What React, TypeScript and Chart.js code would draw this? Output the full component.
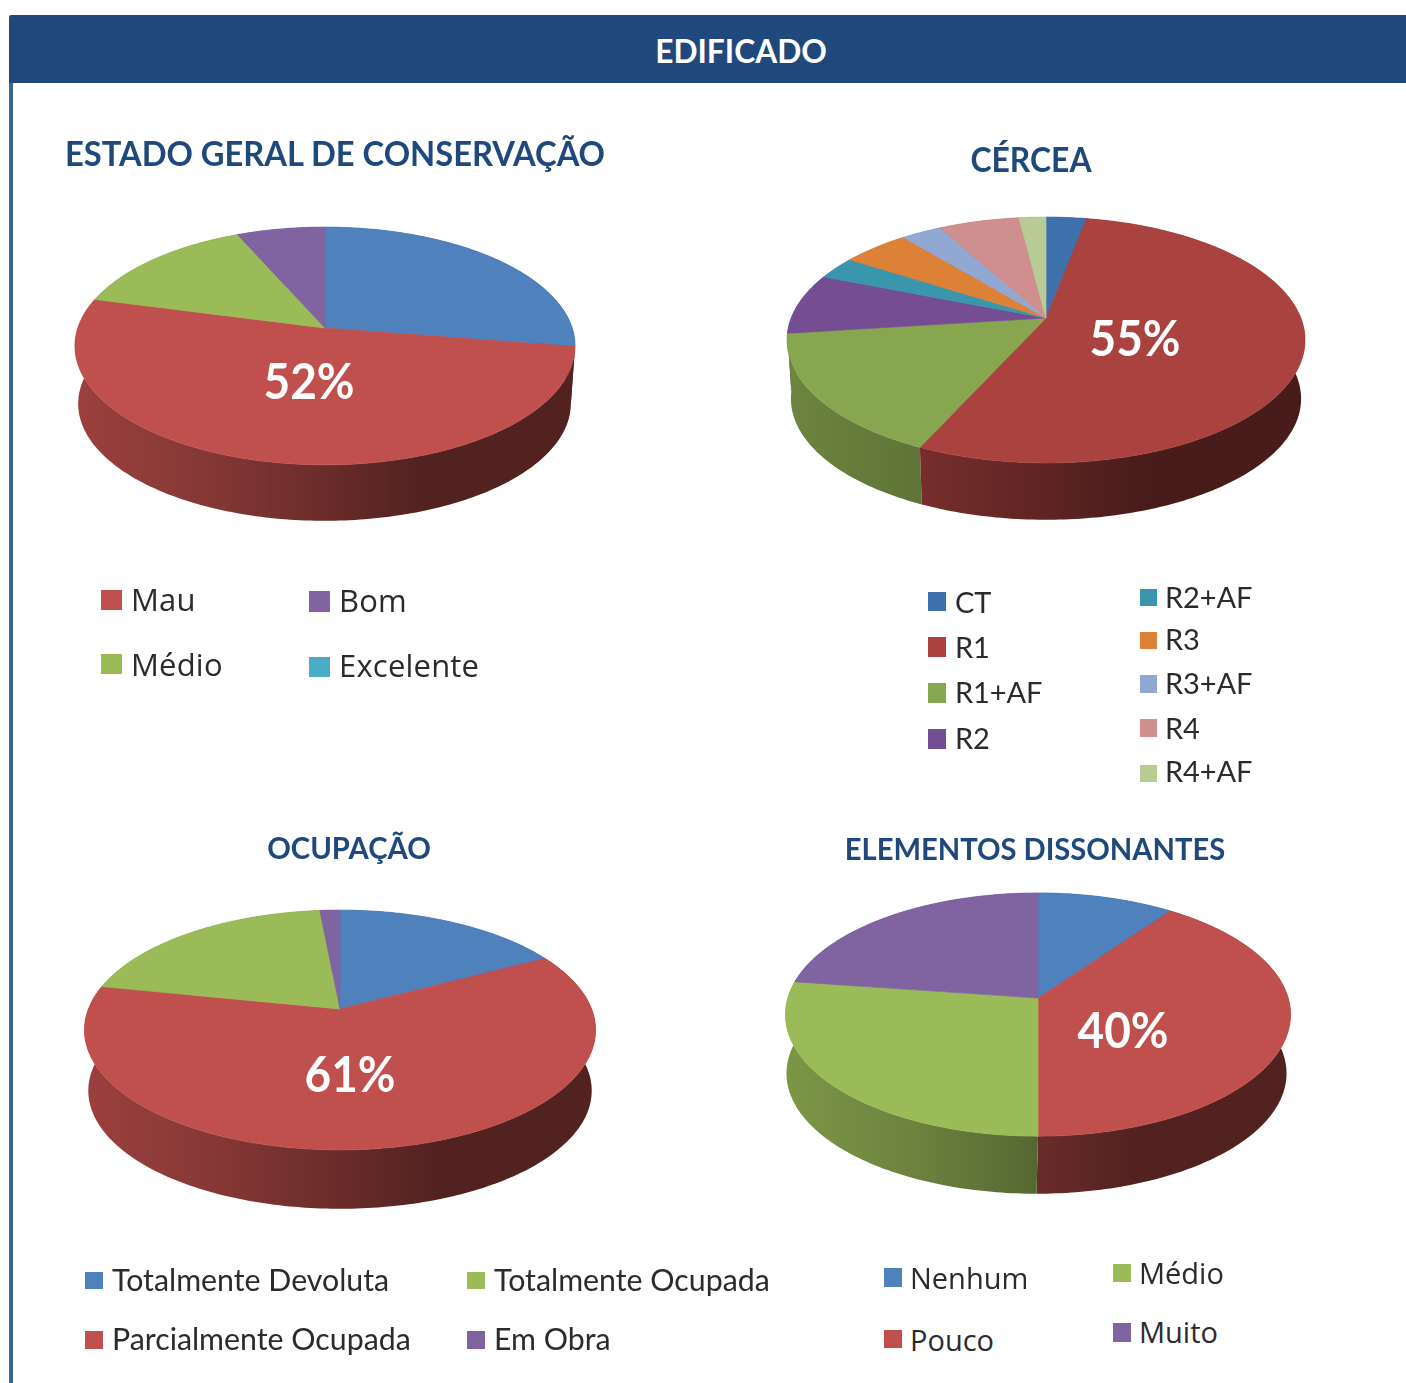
import React, { useEffect, useRef } from "react";
import { Chart, registerables, ArcElement, PieController } from "chart.js";

// ---------- data ----------
const conservacaoLabels = ["", "Mau", "Médio", "Bom", "Excelente"];
const conservacaoValues = [27.5, 51.6, 14.3, 6.6, 0];
const conservacaoColors = ["#4f81bd", "#c0504d", "#9bbb59", "#8064a2", "#4bacc6"];
const conservacaoPercent = 52;

const cerceaLabels = ["CT", "R1", "R1+AF", "R2", "R2+AF", "R3", "R3+AF", "R4", "R4+AF"];
const cerceaValues = [3, 53.8, 16.2, 8, 3, 5, 3, 6, 2];
const cerceaColors = ["#3e70ab", "#aa423f", "#88a64f", "#744d92", "#3996ad", "#dc8136", "#91a8d2", "#cf8f8e", "#b8cc95"];
const cerceaPercent = 55;

const ocupacaoLabels = ["Totalmente Devoluta", "Parcialmente Ocupada", "Totalmente Ocupada", "Em Obra"];
const ocupacaoValues = [17.2, 61, 20.3, 1.5];
const ocupacaoColors = ["#4f81bd", "#c0504d", "#9bbb59", "#8064a2"];
const ocupacaoPercent = 61;

const dissonantesLabels = ["Nenhum", "Pouco", "Médio", "Muito"];
const dissonantesValues = [10, 40, 27.2, 22.8];
const dissonantesColors = ["#4f81bd", "#c0504d", "#9bbb59", "#8064a2"];
const dissonantesPercent = 40;

const pageTitle = "EDIFICADO";

// ---------- layout (not data) ----------
const NAVY = "#1f497d";
const CANVAS = 600;
type Legend = [number, number, number, number, number, number, number]; // index, sx, sy, sw, sh, tx, tcy

const charts = [
  {
    title: "ESTADO GERAL DE CONSERVAÇÃO", titleCx: 334.5, titleCy: 153, titleSize: 34.5, titleStretch: 0.947,
    labels: conservacaoLabels, values: conservacaoValues, colors: conservacaoColors, percent: conservacaoPercent, hi: 1,
    cx: 325, cy: 328, radius: 247.2, yScale: 0.47, q: 0.151, depth: 58, inset: 0.985, lowerDx: -0.5,
    pctDx: -16, pctDy: 55.5,
    font: "'Open Sans'", fontSize: 31, spacing: 0.2, textDy: -1,
    legend: [
      [1, 101, 590, 21, 20, 131, 600],
      [2, 101, 654, 21, 20, 131, 665],
      [3, 309, 591, 21, 21, 339, 601],
      [4, 309, 657, 21, 20, 339, 666],
    ] as Legend[],
  },
  {
    title: "CÉRCEA", titleCx: 1031, titleCy: 159, titleSize: 34.5, titleStretch: 0.924,
    labels: cerceaLabels, values: cerceaValues, colors: cerceaColors, percent: cerceaPercent, hi: 1,
    cx: 1046, cy: 318, radius: 254.8, yScale: 0.467, q: 0.179, depth: 59, inset: 0.985, lowerDx: 0,
    pctDx: 89, pctDy: 22.5,
    font: "Lato", fontSize: 29, spacing: -0.1, textDy: -1,
    legend: [
      [0, 928, 592, 18, 19, 955, 602],
      [1, 928, 637, 18, 20, 955, 647],
      [2, 928, 683, 18, 20, 955, 692],
      [3, 928, 729, 18, 20, 955, 738],
      [4, 1140, 589, 17, 17, 1165, 597],
      [5, 1140, 632, 17, 17, 1165, 639],
      [6, 1140, 675, 17, 18, 1165, 683],
      [7, 1140, 719, 17, 18, 1165, 728],
      [8, 1140, 765, 17, 17, 1165, 771],
    ] as Legend[],
  },
  {
    title: "OCUPAÇÃO", titleCx: 349, titleCy: 847, titleSize: 31, titleStretch: 0.943,
    labels: ocupacaoLabels, values: ocupacaoValues, colors: ocupacaoColors, percent: ocupacaoPercent, hi: 1,
    cx: 340, cy: 1009, radius: 251.6, yScale: 0.462, q: 0.175, depth: 61, inset: 0.985, lowerDx: 0,
    pctDx: 10, pctDy: 67.5,
    font: "Lato", fontSize: 30.3, spacing: 0, textDy: -2,
    legend: [
      [0, 85, 1272, 18, 17, 112, 1281],
      [1, 85, 1331, 18, 18, 112, 1340],
      [2, 467, 1272, 18, 17, 494, 1281],
      [3, 467, 1331, 18, 18, 494, 1340],
    ] as Legend[],
  },
  {
    title: "ELEMENTOS DISSONANTES", titleCx: 1035, titleCy: 848, titleSize: 31, titleStretch: 0.94,
    labels: dissonantesLabels, values: dissonantesValues, colors: dissonantesColors, percent: dissonantesPercent, hi: 1,
    cx: 1037.5, cy: 998, radius: 250.2, yScale: 0.477, q: 0.136, depth: 59, inset: 0.99, lowerDx: -1.5,
    pctDx: 85, pctDy: 34.5,
    font: "'Open Sans'", fontSize: 29, spacing: 0, textDy: -1,
    legend: [
      [0, 884, 1268, 18, 19, 910, 1278],
      [1, 884, 1330, 18, 18, 910, 1340],
      [2, 1113, 1264, 18, 18, 1139, 1273],
      [3, 1113, 1323, 18, 19, 1139, 1332],
    ] as Legend[],
  },
];

// ---------- perspective projection ----------
type Tilt = { yScale: number; q: number; depth: number; inset: number; lowerDx: number };

function project(arc: any, tilt: Tilt, angle: number, lower: boolean) {
  const u = Math.cos(angle);
  const v = Math.sin(angle);
  const d = 1 - tilt.q * v;
  const s = lower ? tilt.inset : 1;
  const r = arc.outerRadius;
  return {
    x: arc.x + (r * u * s) / d + (lower ? tilt.lowerDx : 0),
    y: arc.y + (r * tilt.yScale * v * s) / d + (lower ? tilt.depth : 0),
    v,
  };
}

function samples(start: number, end: number) {
  const n = Math.max(2, Math.ceil(((end - start) * 180) / Math.PI));
  const out: number[] = [];
  for (let i = 0; i <= n; i++) out.push(start + ((end - start) * i) / n);
  return out;
}

function shade(hex: string, k: number) {
  const n = parseInt(hex.slice(1), 16);
  return `rgb(${Math.round(((n >> 16) & 255) * k)},${Math.round(((n >> 8) & 255) * k)},${Math.round((n & 255) * k)})`;
}

class Arc3D extends ArcElement {
  static id = "arc3d";
  draw(ctx: CanvasRenderingContext2D) {
    const self: any = this;
    if (self.endAngle - self.startAngle <= 0) return;
    const tilt: Tilt = self.$context.chart.options.plugins.tilt;
    const color = self.options.backgroundColor;
    ctx.save();
    ctx.beginPath();
    ctx.moveTo(self.x, self.y);
    for (const a of samples(self.startAngle, self.endAngle)) {
      const p = project(self, tilt, a, false);
      ctx.lineTo(p.x, p.y);
    }
    ctx.closePath();
    ctx.fillStyle = color;
    ctx.strokeStyle = color;
    ctx.lineWidth = 0.7;
    ctx.fill();
    ctx.stroke();
    ctx.restore();
  }
}

class Pie3DController extends PieController {
  static id = "pie3d";
  static defaults = { dataElementType: "arc3d" };
}

const tiltPlugin = {
  id: "tilt",
  beforeDatasetsDraw(chart: any, _args: any, opts: Tilt) {
    const ctx: CanvasRenderingContext2D = chart.ctx;
    const arcs = chart.getDatasetMeta(0).data.filter((a: any) => a.endAngle > a.startAngle);
    const parts = arcs.map((arc: any) => {
      const angles = samples(arc.startAngle, arc.endAngle);
      const top = angles.map((a) => project(arc, opts, a, false));
      const low = angles.map((a) => project(arc, opts, a, true));
      return { arc, top, low, maxV: Math.max(...top.map((p) => p.v)) };
    });
    parts.sort((a: any, b: any) => a.maxV - b.maxV);
    for (const { arc, top, low } of parts) {
      const base = arc.options.backgroundColor;
      const g = ctx.createLinearGradient(arc.x - arc.outerRadius, 0, arc.x + arc.outerRadius, 0);
      g.addColorStop(0, shade(base, 0.8));
      g.addColorStop(0.25, shade(base, 0.7));
      g.addColorStop(0.5, shade(base, 0.55));
      g.addColorStop(0.7, shade(base, 0.42));
      g.addColorStop(1, shade(base, 0.42));
      ctx.save();
      ctx.beginPath();
      top.forEach((p: any, i: number) => (i ? ctx.lineTo(p.x, p.y) : ctx.moveTo(p.x, p.y)));
      [...low].reverse().forEach((p: any) => ctx.lineTo(p.x, p.y));
      ctx.closePath();
      ctx.fillStyle = g;
      ctx.fill();
      ctx.restore();
    }
  },
};

const percentPlugin = {
  id: "percent",
  afterDatasetsDraw(chart: any, _args: any, opts: any) {
    const ctx: CanvasRenderingContext2D = chart.ctx;
    const arc = chart.getDatasetMeta(0).data[opts.index];
    ctx.save();
    ctx.font = "bold 49px Lato";
    ctx.fillStyle = "#ffffff";
    ctx.textAlign = "center";
    ctx.textBaseline = "middle";
    ctx.fillText(`${opts.value}%`, arc.x + opts.dx, arc.y + opts.dy, 91);
    ctx.restore();
  },
};

Chart.register(...registerables, Arc3D, Pie3DController);

function Pie({ c }: { c: (typeof charts)[number] }) {
  const ref = useRef<HTMLCanvasElement>(null);
  useEffect(() => {
    const pad = CANVAS / 2 - c.radius;
    const chart = new Chart(ref.current as HTMLCanvasElement, {
      type: "pie3d" as any,
      data: {
        labels: c.labels,
        datasets: [{ data: c.values, backgroundColor: c.colors, borderWidth: 0 }],
      },
      options: {
        animation: false,
        responsive: false,
        layout: { padding: pad },
        events: [],
        plugins: {
          legend: { display: false },
          tooltip: { enabled: false },
          tilt: { yScale: c.yScale, q: c.q, depth: c.depth, inset: c.inset, lowerDx: c.lowerDx },
          percent: { index: c.hi, value: c.percent, dx: c.pctDx, dy: c.pctDy },
        } as any,
      },
      plugins: [tiltPlugin, percentPlugin],
    } as any);
    return () => chart.destroy();
  }, [c]);
  return (
    <canvas
      ref={ref}
      width={CANVAS}
      height={CANVAS}
      style={{ position: "absolute", left: c.cx - CANVAS / 2, top: c.cy - CANVAS / 2, width: CANVAS, height: CANVAS }}
    />
  );
}

const centered = (cx: number, cy: number, stretch: number): React.CSSProperties => ({
  position: "absolute",
  left: cx,
  top: cy,
  transform: `translate(-50%, -50%) scaleX(${stretch})`,
  whiteSpace: "nowrap",
  lineHeight: 1,
});

export default function App() {
  return (
    <div
      style={{
        position: "absolute",
        left: 0,
        top: 0,
        width: 1406,
        height: 1383,
        overflow: "hidden",
        background: "#fff",
        filter: "blur(0.5px)",
        fontFamily: "Lato",
      }}
    >
      <div style={{ position: "absolute", left: 9, top: 15, width: 1397, height: 68, background: NAVY, borderTopLeftRadius: 2 }} />
      <div style={{ position: "absolute", left: 9, top: 83, width: 4, height: 1300, background: "#3a6597" }} />
      <div style={{ ...centered(741, 50, 0.96), color: "#fff", fontWeight: 700, fontSize: 33 }}>{pageTitle}</div>
      {charts.map((c) => (
        <Pie key={c.title} c={c} />
      ))}
      {charts.map((c) => (
        <div key={c.title + "-t"} style={{ ...centered(c.titleCx, c.titleCy, c.titleStretch), color: NAVY, fontWeight: 700, fontSize: c.titleSize }}>
          {c.title}
        </div>
      ))}
      {charts.map((c) =>
        c.legend.map(([i, sx, sy, sw, sh, tx, tcy]) => (
          <React.Fragment key={c.title + i}>
            <div style={{ position: "absolute", left: sx, top: sy, width: sw, height: sh, background: c.colors[i] }} />
            <div
              style={{
                position: "absolute",
                left: tx,
                top: tcy + c.textDy,
                transform: "translateY(-50%)",
                whiteSpace: "nowrap",
                lineHeight: 1,
                fontFamily: c.font,
                fontSize: c.fontSize,
                letterSpacing: c.spacing,
                color: "#2b2b2f",
              }}
            >
              {c.labels[i]}
            </div>
          </React.Fragment>
        ))
      )}
    </div>
  );
}
